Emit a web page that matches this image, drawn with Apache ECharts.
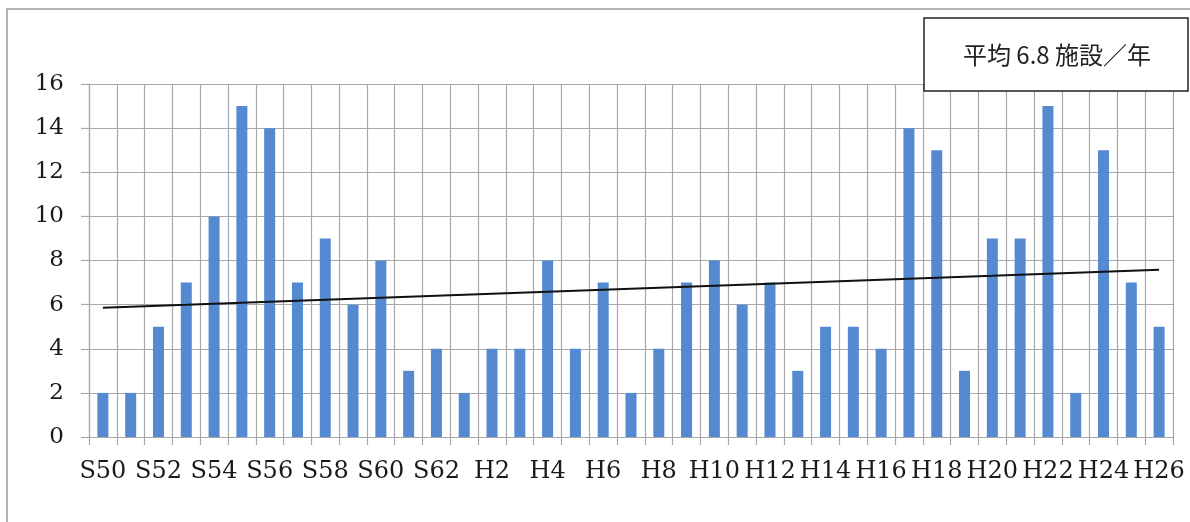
<!DOCTYPE html>
<html>
<head>
<meta charset="utf-8">
<script src="https://cdn.jsdelivr.net/npm/echarts@6/dist/echarts.min.js"></script>
<style>
  html, body { margin: 0; padding: 0; background: #fff; }
  #chart { width: 1190px; height: 522px; }
</style>
</head>
<body>
<div id="chart"></div>
<script>
// 年度 (昭和 / 平成)
var years = ['S50', 'S51', 'S52', 'S53', 'S54', 'S55', 'S56', 'S57', 'S58', 'S59',
    'S60', 'S61', 'S62', 'S63', 'H2', 'H3', 'H4', 'H5', 'H6', 'H7',
    'H8', 'H9', 'H10', 'H11', 'H12', 'H13', 'H14', 'H15', 'H16', 'H17',
    'H18', 'H19', 'H20', 'H21', 'H22', 'H23', 'H24', 'H25', 'H26'];
// 施設数
var counts = [2, 2, 5, 7, 10, 15, 14, 7, 9, 6,
    8, 3, 4, 2, 4, 4, 8, 4, 7, 2,
    4, 7, 8, 6, 7, 3, 5, 5, 4, 14,
    13, 3, 9, 9, 15, 2, 13, 7, 5];
var yTicks = [0, 16, 2]; // min, max, interval
var noteText = '平均 6.8 施設／年';

// 線形近似 (最小二乗)
function trend(data) {
    var n = data.length, sx = 0, sy = 0, sxx = 0, sxy = 0, i;
    for (i = 0; i < n; i++) {
        sx += i; sy += data[i]; sxx += i * i; sxy += i * data[i];
    }
    var b = (n * sxy - sx * sy) / (n * sxx - sx * sx);
    var a = (sy - b * sx) / n;
    var out = [];
    for (i = 0; i < n; i++) {
        out.push(+(a + b * i).toFixed(3));
    }
    return out;
}

var gridColor = '#a8a8a8';
var serif = '"DejaVu Serif", "Liberation Serif", serif';

var chart = echarts.init(document.getElementById('chart'));
var option = {
    animation: false,
    grid: { left: 89, right: 17, top: 84, bottom: 85 },
    graphic: [
        {
            type: 'rect',
            shape: { x: 7, y: 9, width: 1200, height: 540 },
            style: { fill: 'none', stroke: '#9a9a9a', lineWidth: 1.5 },
            z: 0
        },
        {
            type: 'rect',
            shape: { x: 924, y: 18, width: 264, height: 73 },
            style: { fill: '#fff', stroke: '#222', lineWidth: 1.5 },
            z: 100
        },
        {
            type: 'text',
            x: 1057, y: 55,
            style: {
                text: noteText,
                fill: '#222',
                font: '24px "Noto Sans CJK JP", "Noto Sans", sans-serif',
                textAlign: 'center',
                textVerticalAlign: 'middle'
            },
            z: 101
        }
    ],
    xAxis: {
        type: 'category',
        data: years,
        boundaryGap: true,
        axisLine: { show: true, lineStyle: { color: gridColor, width: 1.2 } },
        axisTick: { show: true, interval: 0, length: 8, lineStyle: { color: gridColor, width: 1.2 } },
        splitLine: { show: true, interval: 0, lineStyle: { color: gridColor, width: 1.2 } },
        axisLabel: {
            interval: 1,
            margin: 23,
            color: '#1a1a1a',
            fontFamily: serif,
            fontSize: 24
        }
    },
    yAxis: {
        type: 'value',
        min: yTicks[0],
        max: yTicks[1],
        interval: yTicks[2],
        axisLine: { show: true, lineStyle: { color: gridColor, width: 1.2 } },
        axisTick: { show: true, length: 8, lineStyle: { color: gridColor, width: 1.2 } },
        splitLine: { show: true, lineStyle: { color: gridColor, width: 1.2 } },
        axisLabel: {
            margin: 25,
            color: '#1a1a1a',
            fontFamily: serif,
            fontSize: 23
        }
    },
    series: [
        {
            name: '施設数',
            type: 'bar',
            data: counts,
            barWidth: 11,
            itemStyle: { color: '#5589d0' },
            z: 2
        },
        {
            name: '近似',
            type: 'line',
            data: trend(counts),
            showSymbol: false,
            lineStyle: { color: '#111', width: 2 },
            z: 3
        }
    ]
};
chart.setOption(option);
</script>
</body>
</html>
